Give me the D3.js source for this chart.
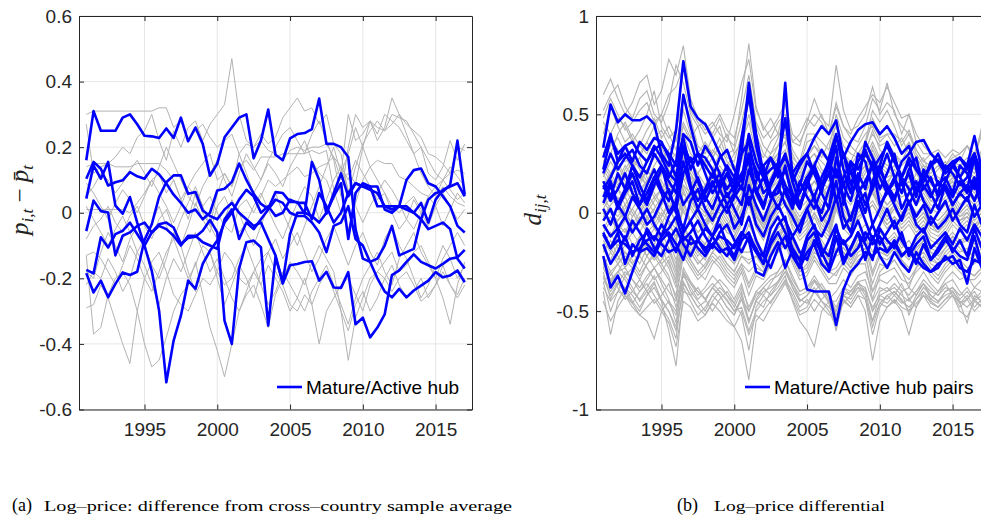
<!DOCTYPE html>
<html>
<head>
<meta charset="utf-8">
<script src="https://cdn.jsdelivr.net/npm/d3@7"></script>
<style>
  body { margin: 0; background: #fff; }
  svg { display: block; }
</style>
</head>
<body>
<svg id="chart" width="981" height="520"></svg>
<script>
// half-yearly observations, 1991 to 2017
var years = d3.range(53).map(function(i) { return 1991 + i / 2; });

var xTicks = [1995, 2000, 2005, 2010, 2015];
var leftYTicks = [-0.6, -0.4, -0.2, 0, 0.2, 0.4, 0.6];
var rightYTicks = [-1, -0.5, 0, 0.5, 1];

// panel (a): p_it - mean p_t, hubs in blue
var leftHub = [
  [0.16,0.31,0.25,0.25,0.25,0.29,0.30,0.27,0.235,0.233,0.228,0.257,0.228,0.29,0.218,0.26,0.21,0.113,0.15,0.23,0.26,0.29,0.30,0.166,0.22,0.315,0.177,0.16,0.227,0.24,0.243,0.255,0.348,0.21,0.21,0.20,0.17,-0.05,-0.14,-0.15,-0.20,-0.24,-0.258,-0.232,-0.258,-0.237,-0.222,-0.207,-0.181,-0.197,-0.191,-0.176,-0.212],
  [0.104,0.155,0.134,0.083,0.093,0.099,0.124,0.111,0.104,0.134,0.117,0.089,0.055,0.03,0.0,0.01,-0.02,0.0,0.068,0.073,0.094,0.15,0.10,0.058,0.027,0.012,0.063,0.06,0.033,0.033,-0.003,0.155,0.10,-0.003,0.06,0.12,0.05,0.09,0.08,0.08,0.02,0.02,0.02,0.02,0.10,0.13,0.135,0.09,0.08,0.05,0.02,-0.04,-0.06],
  [0.043,0.144,0.104,0.155,0.022,-0.003,0.048,-0.03,-0.1,-0.177,-0.298,-0.517,-0.39,-0.314,-0.207,-0.232,-0.156,-0.116,-0.085,-0.03,0.0,0.04,0.07,0.05,0.0,0.02,-0.01,0.0,0.04,0.03,0.03,-0.02,0.06,0.02,-0.03,0.0,0.06,0.09,0.08,0.07,0.06,0.02,0.01,0.02,0.02,0.0,-0.02,0.04,0.06,0.065,0.085,0.22,0.055],
  [-0.056,0.037,0.005,0.001,-0.13,-0.07,-0.06,-0.04,-0.03,-0.06,-0.04,-0.05,-0.07,-0.10,-0.07,-0.07,-0.09,-0.10,-0.11,-0.02,0.01,-0.08,-0.03,-0.05,-0.02,0.01,0.04,0.03,0.0,-0.01,-0.01,-0.03,-0.06,-0.12,-0.04,-0.03,0.02,-0.08,-0.1,-0.15,-0.14,-0.1,-0.04,-0.13,-0.12,-0.11,-0.02,-0.05,-0.04,-0.03,-0.05,-0.14,-0.17],
  [-0.174,-0.185,-0.075,-0.106,-0.065,-0.055,-0.03,-0.065,-0.1,-0.06,-0.035,-0.03,-0.045,-0.095,-0.077,-0.073,-0.055,-0.022,-0.06,-0.33,-0.40,-0.17,-0.09,-0.085,-0.105,-0.344,-0.135,-0.21,-0.065,0.0,0.0,-0.01,-0.03,0.0,0.05,0.09,-0.08,0.06,0.09,0.08,0.08,0.01,0.0,0.02,0.01,0.0,0.03,-0.03,0.04,0.07,0.08,0.09,0.05],
  [-0.184,-0.243,-0.207,-0.258,-0.217,-0.182,-0.19,-0.18,-0.083,-0.035,0.048,0.093,0.114,0.114,0.058,0.063,0.007,-0.01,-0.02,0.01,0.03,0.0,-0.02,-0.04,-0.03,-0.08,-0.13,-0.216,-0.16,-0.156,-0.15,-0.148,-0.207,-0.18,-0.228,-0.229,-0.181,-0.34,-0.32,-0.38,-0.35,-0.31,-0.19,-0.176,-0.15,-0.127,-0.15,-0.16,-0.17,-0.156,-0.14,-0.136,-0.113]
];

var leftOther = [
  [0.30,0.31,0.31,0.31,0.31,0.31,0.31,0.31,0.31,0.31,0.32,0.32,0.26,0.28,0.22,0.25,0.27,0.23,0.20,0.22,0.24,0.18,0.21,0.20,0.22,0.19,0.18,0.16,0.19,0.20,0.19,0.20,0.20,0.21,0.17,0.10,0.12,0.09,0.20,0.28,0.26,0.25,0.27,0.30,0.27,0.25,0.23,0.18,0.17,0.15,0.12,0.20,0.19],
  [0.14,0.15,0.15,0.15,0.14,0.14,0.14,0.15,0.15,0.15,0.15,0.13,0.10,0.04,0.08,0.12,0.15,0.18,0.10,0.12,0.08,0.14,0.16,0.13,0.17,0.17,0.17,0.18,0.18,0.18,0.18,0.19,0.18,0.19,0.07,0.0,-0.05,0.03,0.10,0.14,0.16,0.15,0.15,0.11,0.10,0.08,0.06,0.05,0.08,0.10,0.12,0.13,0.12],
  [0.27,0.12,0.14,0.15,0.17,0.20,0.18,0.23,0.25,0.30,0.22,0.16,0.25,0.20,0.26,0.28,0.22,0.27,0.30,0.33,0.47,0.30,0.22,0.20,0.24,0.21,0.23,0.29,0.32,0.35,0.31,0.32,0.27,0.30,0.21,0.18,0.06,0.14,0.21,0.25,0.28,0.25,0.30,0.29,0.28,0.24,0.20,0.12,0.10,0.14,0.22,0.16,0.21],
  [0.01,0.01,0.01,0.01,0.01,0.01,0.0,0.03,0.06,0.10,0.12,0.06,0.10,0.04,-0.02,0.06,0.02,0.05,0.0,-0.04,-0.06,0.02,0.04,0.0,0.05,0.10,0.08,0.10,0.12,0.14,0.11,0.12,0.14,0.15,0.17,0.14,0.10,0.16,0.12,0.08,0.04,0.06,0.02,0.0,0.03,0.05,0.01,-0.02,0.04,0.08,0.05,0.03,0.02],
  [-0.29,-0.28,-0.22,-0.26,-0.33,-0.40,-0.46,-0.30,-0.20,-0.15,-0.12,-0.18,-0.25,-0.28,-0.30,-0.25,-0.20,-0.22,-0.18,-0.12,-0.15,-0.20,-0.22,-0.18,-0.14,-0.12,-0.18,-0.22,-0.28,-0.30,-0.25,-0.28,-0.40,-0.30,-0.26,-0.22,-0.20,-0.25,-0.30,-0.22,-0.18,-0.20,-0.24,-0.20,-0.18,-0.22,-0.27,-0.25,-0.22,-0.18,-0.22,-0.25,-0.20],
  [-0.13,-0.37,-0.35,-0.25,-0.20,-0.18,-0.22,-0.30,-0.40,-0.47,-0.45,-0.38,-0.30,-0.25,-0.22,-0.15,-0.25,-0.35,-0.42,-0.50,-0.40,-0.30,-0.25,-0.22,-0.28,-0.35,-0.25,-0.20,-0.15,-0.18,-0.22,-0.15,-0.10,-0.14,-0.18,-0.30,-0.45,-0.32,-0.26,-0.20,-0.18,-0.15,-0.12,-0.18,-0.16,-0.12,-0.10,-0.15,-0.20,-0.26,-0.34,-0.22,-0.15],
  [-0.13,-0.12,-0.14,-0.18,-0.22,-0.16,-0.10,-0.14,-0.20,-0.24,-0.18,-0.12,-0.08,-0.14,-0.20,-0.16,-0.10,-0.12,-0.18,-0.22,-0.20,-0.14,-0.10,-0.16,-0.22,-0.28,-0.24,-0.18,-0.22,-0.26,-0.30,-0.24,-0.20,-0.16,-0.22,-0.28,-0.34,-0.26,-0.20,-0.16,-0.12,-0.18,-0.22,-0.14,-0.10,-0.06,-0.12,-0.16,-0.20,-0.14,-0.10,-0.06,-0.10],
  [-0.08,-0.04,-0.02,0.02,-0.03,-0.06,-0.01,0.02,-0.04,-0.08,-0.02,0.01,-0.05,-0.10,-0.04,0.03,-0.02,-0.06,0.02,0.05,0.0,-0.06,-0.03,0.02,0.06,0.01,-0.04,-0.08,-0.02,0.03,0.08,0.05,-0.02,0.04,0.10,0.14,0.07,0.02,-0.03,0.02,0.06,0.10,0.07,0.03,-0.02,-0.05,0.0,0.05,0.02,-0.04,0.01,0.06,0.03],
  [0.05,0.08,0.12,0.10,0.06,0.09,0.13,0.16,0.12,0.08,0.14,0.20,0.15,0.10,0.05,0.02,0.08,0.12,0.16,0.10,0.05,0.12,0.18,0.14,0.10,0.15,0.12,0.08,0.14,0.18,0.22,0.16,0.12,0.10,0.04,0.12,0.30,0.22,0.24,0.28,0.22,0.26,0.35,0.30,0.24,0.18,0.20,0.16,0.12,0.10,0.14,0.11,0.08],
  [-0.18,-0.20,-0.12,-0.06,-0.10,-0.15,-0.08,-0.04,-0.10,-0.16,-0.20,-0.14,-0.06,-0.10,-0.18,-0.24,-0.16,-0.12,-0.20,-0.28,-0.22,-0.16,-0.20,-0.26,-0.18,-0.12,-0.08,-0.14,-0.10,-0.06,-0.12,-0.18,-0.14,-0.08,-0.04,-0.10,-0.16,-0.10,-0.06,-0.12,-0.16,-0.08,-0.04,-0.10,-0.14,-0.20,-0.26,-0.22,-0.16,-0.10,-0.14,-0.20,-0.16],
  [0.09,0.06,0.02,-0.02,0.03,0.07,0.04,0.0,0.05,0.10,0.06,0.02,-0.03,0.02,0.08,0.05,0.0,-0.04,0.06,0.12,0.08,0.18,0.12,0.06,0.10,0.16,0.20,0.24,0.26,0.22,0.18,0.24,0.28,0.22,0.16,0.05,0.20,0.30,0.26,0.28,0.24,0.30,0.28,0.26,0.22,0.18,0.12,0.08,0.05,0.10,0.07,0.04,0.06],
  [-0.22,-0.18,-0.20,-0.14,-0.18,-0.24,-0.20,-0.12,-0.16,-0.22,-0.28,-0.20,-0.14,-0.18,-0.12,-0.06,-0.12,-0.18,-0.14,-0.20,-0.26,-0.30,-0.24,-0.18,-0.22,-0.16,-0.20,-0.24,-0.30,-0.26,-0.20,-0.28,-0.22,-0.18,-0.24,-0.30,-0.36,-0.28,-0.24,-0.30,-0.26,-0.20,-0.16,-0.22,-0.26,-0.24,-0.20,-0.26,-0.22,-0.16,-0.22,-0.26,-0.22],
  [0.02,-0.02,-0.06,-0.10,-0.05,-0.01,-0.06,-0.12,-0.08,-0.03,0.02,-0.04,-0.08,-0.02,0.03,0.08,0.02,-0.04,-0.08,-0.02,0.04,0.0,-0.06,-0.10,-0.04,0.02,0.06,0.0,-0.05,-0.10,-0.04,0.02,0.08,0.14,0.20,0.12,0.18,0.26,0.20,0.14,0.10,0.06,0.0,-0.05,-0.02,0.04,0.0,-0.04,0.02,0.06,0.02,-0.02,0.01]
];

// panel (b): pairwise differentials d_ij,t, in hundredths
var rightHubPairs = [
  [33,55,46,50,47,47,49,45,30,24, 42,77,54,48,45,38,30,22,14,38, 60,34,18,22,25,48,20,26,30,38, 44,40,47,28,36,42,45,46,40,44, 38,30,34,22,18,24,27,22,26,28, 24,39,22],
  [28,40,26,34,36,30,26,32,35,30, 24,60,44,30,28,22,14,20,10,30, 66,40,20,8,10,24,6,14,26,20, 10,28,40,22,10,30,26,12,24,36, 28,18,26,10,16,26,14,18,10,24, 20,12,26],
  [22,38,30,34,26,36,32,38,36,28, 18,40,36,24,34,28,20,12,18,30, 36,18,24,28,18,66,16,4,14,24, 32,26,18,30,20,14,36,28,20,30, 18,10,22,28,12,18,8,16,24,18, 12,28,6],
  [12,18,26,30,24,18,26,34,28,20, 16,34,26,30,20,10,16,24,18,12, 30,22,10,14,22,28,20,10,18,24, 14,20,34,4,26,22,30,24,12,20, 30,14,20,8,22,16,10,24,20,14, 18,30,12],
  [16,8,20,12,24,14,6,18,24,10, 2,20,28,16,6,14,20,8,14,20, 26,10,18,8,14,22,10,2,14,8, 18,26,6,14,22,10,0,16,24,12, 6,18,12,4,14,8,16,12,4,10, 14,6,16],
  [5,14,2,10,16,4,10,18,10,0, 6,26,12,2,10,16,6,0,8,14, 4,16,24,10,2,12,4,10,18,6, 0,12,22,8,-4,10,16,24,4,10, 18,2,10,16,6,0,8,14,4,10, 6,16,2],
  [2,-6,4,-2,8,2,-6,-2,6,12, 0,-8,6,12,2,-4,4,10,2,-6, 14,4,-4,6,14,4,-2,-10,2,8, -4,2,16,-2,-10,4,10,-6,2,12, 4,-4,6,-2,4,-6,0,6,-4,2, 8,-2,4],
  [-4,2,-8,-2,-10,-4,2,-6,-12,-2, 4,-10,-4,2,-6,-12,-2,4,-8,-2, 8,-6,-12,-2,4,-4,-12,-6,2,-8, -12,-4,8,-8,-2,6,-4,-14,-6,2, -8,-2,6,-6,-10,-2,-8,-4,2,-6, -10,4,-6],
  [-11,-18,-10,-26,-16,-20,-8,-14,-6,-12, -20,-10,-4,-14,-20,-12,-6,-16,-22,-12, -2,-14,-22,-8,-2,-10,-18,-24,-12,-6, -18,-22,-8,-16,-12,-4,-14,-6,-16,-10, -4,-14,-20,-12,-8,-18,-14,-10,-16,-8, -14,-6,-12],
  [-6,-12,-8,-14,-4,-10,-16,-20,-12,-8, -2,-14,-10,-4,-12,-18,-10,-6,-14,-20, -12,-18,-26,-14,-6,-2,-20,-28,-14,-10, -22,-14,-6,-24,-18,-10,-16,-24,-8,-14, -18,-10,-22,-16,-12,-24,-18,-12,-20,-14, -22,-8,-18],
  [-22,-38,-32,-41,-30,-20,-18,-22,-14,-10, -16,-24,-12,-18,-22,-16,-20,-18,-24,-14, -10,-20,-22,-28,-18,-12,-22,-28,-20,-16, -26,-30,-20,-14,-22,-18,-10,-16,-12,-20, -14,-22,-18,-26,-16,-24,-20,-14,-18,-22, -24,-12,-26],
  [-10,-18,-14,-16,-20,-18,-14,-12,-16,-20, -18,-12,-16,-14,-18,-16,-12,-14,-18,-10, -14,-30,-32,-22,-15,-28,-19,-24,-39,-40, -40,-40,-57,-39,-30,-26,-20,-22,-18,-20, -16,-22,-18,-24,-28,-30,-26,-24,-22,-28, -30,-24,-26],
  [-16,-26,-20,-12,-22,-14,-10,-18,-22,-14, -8,-16,-22,-14,-8,-12,-18,-22,-16,-10, -14,-20,-26,-16,-10,-18,-12,-20,-24,-14, -20,-28,-12,-26,-18,-10,-24,-12,-22,-28, -20,-26,-30,-20,-26,-30,-28,-22,-26,-24, -36,-18,-28],
  [8,16,4,12,20,10,4,14,22,16, 10,34,14,6,12,20,12,4,10,18, 30,10,2,16,24,14,8,2,16,22, 10,2,28,14,6,20,12,26,18,10, 16,26,30,36,37,30,26,20,24,28, 22,30,20],
  [14,6,12,20,10,4,14,22,12,6, 16,4,10,18,8,2,12,20,10,4, 22,12,4,14,22,10,2,16,8,2, 12,20,6,18,26,14,4,12,22,14, 8,16,4,12,20,10,2,14,8,16, 10,18,8],
  [20,30,22,28,32,24,20,30,24,18, 26,38,22,30,24,18,28,32,22,16, 40,26,18,28,22,30,16,24,30,20, 14,24,38,30,14,26,32,22,28,34, 26,18,28,22,16,24,30,22,26,18, 24,30,16]
];

var rightOtherPairs = [
  [60,68,58,50,56,66,70,55,62,78, 70,85,58,48,42,46,40,36,50,66, 78,52,44,38,46,50,36,40,48,44, 50,40,56,44,38,36,44,58,52,66, 50,44,40,32,26,30,28,24,28,30, 34,28,40],
  [52,60,65,54,48,58,62,50,46,56, 75,66,50,44,46,40,48,38,34,58, 86,54,42,48,40,56,36,34,46,58, 48,44,75,52,42,44,50,64,50,56, 52,40,50,36,30,30,26,24,30,26, 34,26,44],
  [46,40,48,44,36,42,50,62,44,38, 42,58,48,34,30,38,44,30,32,46, 62,44,34,30,38,48,32,26,40,40, 36,32,50,38,34,30,36,52,46,52, 44,34,40,30,24,22,28,20,22,24, 26,22,30],
  [40,54,44,36,40,34,42,48,38,44, 36,52,40,30,36,30,38,28,26,40, 56,40,30,26,34,44,28,24,36,38, 30,28,46,34,30,28,34,48,40,44, 38,30,36,28,22,20,24,18,22,20, 24,20,28],
  [35,30,40,46,38,30,36,44,50,40, 32,46,38,44,32,28,34,40,30,36, 50,34,28,36,40,38,30,22,30,34, 28,36,44,30,26,34,40,44,36,40, 34,38,30,24,28,18,22,26,18,22, 20,24,26],
  [48,58,50,42,46,52,56,46,50,60, 64,74,52,46,40,44,50,42,38,52, 70,46,38,42,48,56,40,36,44,50, 46,40,54,44,40,48,54,60,56,64, 56,48,50,40,34,30,32,28,32,30, 34,30,42],
  [30,38,32,26,28,34,30,38,42,34, 28,44,36,30,26,32,28,24,30,36, 46,30,24,30,34,40,26,20,28,34, 30,26,40,30,24,30,36,46,38,40, 40,36,42,32,26,24,26,22,26,24, 28,22,32],
  [26,34,38,30,24,28,36,30,26,32, 38,40,30,26,22,28,34,26,22,30, 40,28,22,26,30,36,24,18,26,30, 26,22,36,28,22,26,32,40,34,36, 30,26,34,24,20,22,18,16,20,18, 22,18,24],
  [22,16,28,30,20,14,22,28,34,24, 18,36,26,20,14,22,30,24,18,26, 40,24,18,24,30,36,22,16,26,30, 22,18,34,24,20,26,30,42,32,28, 30,24,28,20,24,18,16,20,24,18, 22,16,20],
  [18,26,20,14,22,28,18,12,20,26, 30,22,14,20,26,16,10,18,24,14, 34,20,12,18,26,20,14,10,18,24, 16,22,30,12,18,24,16,28,20,14, 22,16,12,20,14,10,16,12,18,14, 10,16,12],
  [14,20,26,18,12,16,22,16,10,14, 22,34,16,10,14,20,14,6,12,18, 30,14,8,12,18,26,12,6,14,20, 14,8,26,16,10,14,20,30,22,18, 20,14,18,10,14,8,6,10,14,8, 12,6,10],
  [24,18,12,20,26,18,14,22,16,10, 16,28,20,14,10,16,22,16,12,18, 28,16,10,16,22,30,18,12,18,22, 16,12,20,26,16,20,24,32,24,20, 24,18,22,14,18,12,10,14,18,12, 16,12,18],
  [10,16,12,8,14,20,14,8,12,18, 14,26,14,8,12,18,12,6,10,16, 26,12,6,12,16,22,10,4,10,16, 10,6,22,10,6,12,16,24,16,12, 14,10,14,6,10,4,2,6,10,4, 8,4,8],
  [20,12,16,24,18,12,8,16,22,14, 10,22,18,12,8,14,20,14,10,18, 32,18,12,18,24,22,16,10,16,20, 12,8,24,14,10,18,24,20,12,16, 20,14,18,12,16,10,8,12,16,10, 14,10,14],
  [12,18,24,16,10,14,8,14,20,26, 18,30,20,12,8,14,20,14,8,12, 24,14,10,16,20,28,14,8,12,16, 10,14,28,18,12,16,22,34,26,22, 18,12,16,10,12,6,8,12,16,10, 12,8,14],
  [16,10,6,12,18,12,16,22,14,8, 12,24,16,10,6,12,18,12,6,14, 28,12,6,14,20,24,12,6,10,16, 12,6,18,12,16,10,14,26,18,14, 16,10,12,8,12,6,4,8,12,8, 10,6,10],
  [26,20,14,22,28,22,16,24,30,22, 16,30,22,16,12,18,24,18,14,20, 36,20,14,22,28,32,20,14,20,26, 20,16,30,22,18,24,28,36,28,24, 26,20,24,16,20,14,12,16,20,14, 18,14,20],
  [8,14,18,12,6,10,16,10,4,10, 16,20,12,6,2,8,14,8,4,10, 22,8,2,8,14,20,8,2,6,12, 6,2,18,8,4,10,14,22,14,10, 12,8,10,4,8,2,0,4,8,2, 6,2,6],
  [4,10,2,-4,2,8,2,-4,4,10, 2,18,8,0,-6,2,8,2,-4,6, 20,4,-4,4,10,16,2,-4,2,8, 0,-6,14,2,-4,6,10,18,10,4, 8,2,6,-2,4,-2,-4,0,6,0, 4,-2,2],
  [0,-6,4,8,0,-6,2,8,2,-4, -8,10,4,-2,-8,0,6,0,-6,2, 14,0,-8,2,8,12,0,-6,0,6, -2,-8,8,0,-6,2,6,14,6,0, 4,-2,2,-4,0,-6,-8,-4,2,-4, 0,-6,-2],
  [-4,2,-6,-10,-2,4,-2,-8,-2,4, -6,12,2,-4,-8,-2,4,-2,-8,0, 10,-2,-8,0,6,10,-2,-8,-4,4, -4,-10,6,-2,-8,0,4,10,4,-2, 2,-4,0,-6,-2,-8,-10,-6,0,-4, -2,-8,-4],
  [6,0,-4,2,8,2,-4,2,8,2, -4,6,10,2,-2,4,10,4,-2,6, 16,2,-6,4,10,8,2,-6,2,10, 2,-4,10,4,-2,4,8,12,4,2, 6,0,4,-2,2,-4,-6,-2,4,-2, 2,-4,0],
  [-8,-2,-10,-4,2,-4,-10,-6,0,-6, -12,4,-4,-10,-6,0,-4,-10,-12,-4, 6,-6,-12,-4,2,6,-6,-12,-8,0, -8,-12,4,-6,-10,-2,2,6,0,-6, -2,-8,-4,-10,-6,-12,-14,-10,-4,-8, -4,-10,-6],
  [2,8,12,4,-2,4,10,4,-2,6, 10,14,6,0,-4,2,0,-6,-2,6, 12,-2,-6,2,8,6,-2,-8,-4,4, -2,-8,8,-4,-8,2,4,10,2,-4, 2,-4,0,-6,-2,-6,-10,-4,0,-4, -2,-6,-4],
  [-10,-4,-8,-14,-8,-2,-8,-14,-10,-4, -14,2,-6,-12,-16,-8,-2,-8,-14,-6, 4,-8,-14,-6,0,4,-8,-14,-10,-2, -10,-14,2,-8,-12,-4,0,4,-2,-8, -4,-10,-6,-12,-8,-14,-16,-12,-6,-10, -6,-12,-8],
  [-2,4,8,0,-6,0,6,0,-6,2, 8,0,-4,4,0,-6,2,-4,-10,-2, 16,2,-4,2,6,12,-2,-6,-2,6, -2,-6,10,-2,-6,4,0,12,4,-2, 4,-2,2,-4,0,-6,-8,-2,2,-2, 0,-4,0],
  [-6,-12,-4,0,-6,-10,-2,2,-4,-10, -16,6,-4,-10,-6,0,-4,-10,-12,-4, 8,-4,-10,-4,2,6,-4,-10,-6,0, -6,-10,2,-6,-10,-2,0,4,-2,-6, -2,-6,-2,-8,-4,-10,-12,-8,-2,-6, -2,-8,-4],
  [8,2,-2,4,10,6,0,6,12,6, 0,14,10,4,0,6,12,6,0,8, 18,4,-2,6,12,14,4,-2,4,10, 4,-2,12,6,0,6,10,16,8,4, 8,2,6,0,4,-2,-4,0,6,0, 4,-2,2],
  [-14,-20,-12,-8,-16,-22,-14,-8,-14,-20, -28,-6,-14,-20,-16,-10,-14,-20,-24,-14, -10,-16,-22,-14,-8,-4,-14,-22,-18,-10, -16,-22,-8,-16,-20,-12,-10,-6,-12,-16, -12,-18,-14,-20,-14,-20,-24,-18,-12,-16, -12,-18,-14],
  [-18,-26,-20,-14,-20,-26,-18,-12,-18,-26, -34,-14,-20,-26,-22,-16,-20,-26,-30,-22, -26,-22,-26,-18,-12,-8,-18,-26,-22,-14, -20,-26,-20,-20,-26,-18,-16,-22,-18,-22, -18,-24,-28,-22,-16,-22,-26,-20,-16,-20, -18,-24,-20],
  [-22,-30,-26,-20,-24,-30,-22,-16,-22,-28, -38,-18,-24,-30,-26,-20,-24,-30,-34,-26, -36,-28,-30,-22,-16,-10,-22,-30,-28,-20, -24,-30,-32,-24,-28,-22,-20,-40,-30,-26, -24,-30,-38,-28,-22,-28,-32,-26,-22,-26, -30,-32,-28],
  [-26,-34,-30,-24,-28,-34,-26,-20,-26,-32, -44,-22,-28,-34,-30,-24,-28,-34,-38,-30, -42,-32,-34,-26,-20,-16,-26,-34,-32,-24, -30,-36,-36,-28,-32,-26,-26,-44,-32,-30, -28,-34,-36,-30,-26,-32,-36,-30,-26,-30, -34,-34,-30],
  [-16,-10,-18,-24,-18,-12,-18,-24,-20,-14, -24,-8,-14,-20,-24,-16,-12,-18,-22,-16, -6,-14,-20,-12,-6,-2,-12,-20,-16,-8, -14,-20,-10,-14,-18,-10,-6,-12,-10,-14, -10,-16,-20,-14,-10,-16,-18,-14,-10,-14, -12,-16,-12],
  [-20,-14,-22,-28,-22,-16,-22,-28,-24,-18, -30,-12,-18,-24,-28,-20,-16,-22,-26,-20, -20,-18,-24,-16,-10,-6,-16,-24,-20,-12, -18,-24,-18,-18,-22,-14,-12,-24,-16,-18, -14,-20,-24,-18,-14,-20,-22,-18,-14,-18, -22,-20,-16],
  [-24,-32,-26,-22,-26,-32,-26,-22,-28,-34, -42,-20,-26,-32,-28,-22,-26,-32,-36,-28, -38,-30,-32,-26,-20,-14,-24,-32,-30,-22, -28,-34,-30,-26,-30,-24,-22,-36,-26,-28, -24,-30,-34,-28,-24,-30,-34,-28,-24,-28, -30,-32,-28],
  [-12,-18,-24,-16,-10,-16,-22,-16,-10,-18, -26,-10,-16,-22,-18,-12,-16,-22,-26,-18, -14,-20,-26,-18,-12,-6,-16,-24,-20,-12, -18,-24,-14,-18,-22,-16,-12,-20,-14,-18, -14,-20,-22,-16,-12,-18,-20,-16,-12,-16, -14,-18,-14],
  [-28,-20,-26,-32,-28,-22,-28,-34,-30,-24, -36,-18,-24,-30,-34,-26,-22,-28,-32,-26, -30,-26,-30,-22,-16,-12,-22,-30,-26,-18, -24,-30,-28,-22,-28,-20,-18,-32,-22,-24, -20,-26,-30,-24,-20,-26,-28,-24,-20,-24, -28,-26,-22],
  [-18,-24,-16,-20,-26,-20,-14,-20,-26,-22, -32,-14,-20,-26,-22,-16,-20,-26,-30,-22, -24,-22,-28,-20,-14,-8,-18,-26,-22,-16, -20,-26,-22,-20,-24,-18,-14,-30,-20,-22, -18,-24,-30,-22,-18,-24,-26,-22,-18,-22, -24,-22,-18],
  [-35,-50,-40,-32,-38,-45,-40,-35,-45,-60, -78,-40,-42,-48,-45,-38,-42,-48,-52,-42, -55,-45,-48,-40,-35,-30,-38,-45,-42,-35, -40,-45,-45,-38,-40,-35,-34,-45,-38,-40, -36,-40,-38,-42,-36,-44,-46,-40,-38,-42, -38,-44,-40],
  [-40,-62,-45,-38,-42,-48,-42,-36,-44,-50, -60,-38,-45,-52,-48,-42,-46,-52,-58,-65, -85,-55,-50,-45,-40,-35,-42,-50,-48,-40, -45,-48,-50,-42,-46,-40,-38,-50,-44,-46, -42,-46,-44,-48,-40,-46,-48,-44,-40,-46, -42,-48,-44],
  [-38,-45,-40,-42,-48,-52,-55,-64,-50,-45, -50,-35,-42,-48,-52,-45,-40,-45,-50,-48, -60,-50,-45,-42,-38,-32,-45,-55,-60,-68, -50,-45,-55,-42,-40,-35,-40,-48,-42,-44, -40,-45,-48,-44,-38,-42,-45,-40,-38,-44, -40,-45,-42],
  [-32,-40,-35,-38,-45,-50,-42,-38,-45,-50, -58,-30,-40,-45,-50,-42,-38,-42,-48,-40, -55,-45,-40,-38,-35,-28,-38,-45,-42,-38, -45,-50,-58,-45,-48,-42,-50,-75,-55,-48, -45,-50,-62,-48,-42,-45,-48,-44,-42,-50, -53,-45,-48],
  [-28,-36,-30,-34,-40,-44,-38,-32,-40,-46, -52,-28,-35,-40,-44,-38,-34,-38,-44,-36, -50,-40,-36,-32,-30,-24,-34,-40,-38,-34, -40,-46,-60,-42,-44,-38,-44,-62,-48,-42, -40,-44,-50,-42,-36,-40,-42,-38,-40,-46, -56,-42,-45],
  [-45,-55,-48,-42,-46,-52,-48,-44,-50,-56, -68,-45,-48,-55,-52,-46,-50,-55,-58,-50, -62,-52,-55,-48,-42,-36,-44,-52,-50,-44, -48,-52,-52,-44,-48,-42,-44,-55,-46,-48, -44,-48,-50,-46,-42,-48,-50,-46,-42,-46, -44,-50,-46],
  [-33,-42,-36,-30,-34,-40,-34,-28,-36,-44, -56,-30,-36,-42,-38,-32,-36,-42,-46,-38, -48,-40,-42,-36,-30,-24,-32,-40,-38,-32, -38,-44,-40,-34,-38,-32,-30,-40,-34,-36, -32,-38,-42,-36,-30,-36,-40,-34,-30,-34, -32,-38,-34],
  [-25,-35,-30,-28,-34,-38,-32,-28,-34,-40, -45,-30,-36,-40,-44,-38,-42,-48,-52,-44, -50,-42,-38,-34,-32,-28,-36,-42,-40,-34, -38,-42,-48,-40,-42,-38,-40,-55,-42,-40, -38,-42,-45,-40,-36,-42,-45,-42,-40,-45, -48,-44,-48],
  [-30,-44,-36,-40,-46,-40,-36,-42,-48,-54, -64,-36,-42,-38,-44,-50,-44,-40,-46,-52, -70,-48,-42,-46,-40,-34,-40,-48,-44,-50, -44,-40,-52,-46,-42,-36,-42,-58,-46,-42, -46,-40,-52,-44,-40,-44,-40,-36,-42,-48, -44,-40,-46],
  [-36,-30,-38,-44,-40,-34,-40,-46,-42,-36, -48,-32,-38,-44,-40,-36,-40,-44,-50,-44, -56,-44,-38,-42,-36,-30,-36,-44,-46,-40, -36,-42,-50,-38,-42,-36,-38,-50,-40,-38, -42,-36,-44,-40,-34,-38,-42,-36,-34,-40, -44,-38,-40]
];

var svg = d3.select("#chart");
var axisColor = "#262626";
var tickFont = "'Liberation Sans', Arial, Helvetica, sans-serif";
var plotTop = 16, plotBottom = 409.5, plotWidth = 393;

function drawPanel(p) {
  var x = d3.scaleLinear().domain([1990.5, 2017.5]).range([p.left, p.left + plotWidth]);
  var y = d3.scaleLinear().domain(p.yDomain).range([plotBottom, plotTop]);
  var g = svg.append("g");

  g.append("clipPath").attr("id", p.id + "-clip")
    .append("rect")
    .attr("x", p.left).attr("y", plotTop)
    .attr("width", plotWidth).attr("height", plotBottom - plotTop);

  // grid
  g.append("g").selectAll("line").data(xTicks).join("line")
    .attr("x1", function(d) { return x(d); }).attr("x2", function(d) { return x(d); })
    .attr("y1", plotTop).attr("y2", plotBottom)
    .attr("stroke", "#e6e6e6").attr("stroke-width", 1);
  g.append("g").selectAll("line").data(p.yTicks).join("line")
    .attr("x1", p.left).attr("x2", p.left + plotWidth)
    .attr("y1", function(d) { return y(d); }).attr("y2", function(d) { return y(d); })
    .attr("stroke", "#e6e6e6").attr("stroke-width", 1);

  var line = d3.line()
    .x(function(d, i) { return x(years[i]); })
    .y(function(d) { return y(d * p.unit); });

  var lines = g.append("g").attr("clip-path", "url(#" + p.id + "-clip)");
  lines.selectAll("path.other").data(p.other).join("path")
    .attr("class", "other")
    .attr("d", line)
    .attr("fill", "none")
    .attr("stroke", "#b3b3b3")
    .attr("stroke-width", p.otherWidth);
  lines.selectAll("path.hub").data(p.hub).join("path")
    .attr("class", "hub")
    .attr("d", line)
    .attr("fill", "none")
    .attr("stroke", "#0000ff")
    .attr("stroke-width", 2.6)
    .attr("stroke-linejoin", "round");

  // axes, ticks pointing inward
  var bottom = g.append("g").attr("transform", "translate(0," + plotBottom + ")")
    .call(d3.axisBottom(x).tickValues(xTicks).tickFormat(d3.format("d"))
      .tickSizeInner(-5).tickSizeOuter(0).tickPadding(13));
  var left = g.append("g").attr("transform", "translate(" + p.left + ",0)")
    .call(d3.axisLeft(y).tickValues(p.yTicks).tickFormat(p.fmt)
      .tickSizeInner(-5).tickSizeOuter(0).tickPadding(7));
  var top = g.append("g").attr("transform", "translate(0," + plotTop + ")")
    .call(d3.axisTop(x).tickValues(xTicks).tickFormat("")
      .tickSizeInner(-5).tickSizeOuter(0));
  var right = g.append("g").attr("transform", "translate(" + (p.left + plotWidth) + ",0)")
    .call(d3.axisRight(y).tickValues(p.yTicks).tickFormat("")
      .tickSizeInner(-5).tickSizeOuter(0));

  [bottom, left, top, right].forEach(function(a) {
    a.select(".domain").attr("stroke", axisColor);
    a.selectAll(".tick line").attr("stroke", axisColor);
    a.selectAll(".tick text").attr("fill", axisColor)
      .attr("font-family", tickFont).attr("font-size", 19);
  });

  // legend
  g.append("line")
    .attr("x1", p.legendX).attr("x2", p.legendX + 25)
    .attr("y1", 387).attr("y2", 387)
    .attr("stroke", "#0000ff").attr("stroke-width", 2.6);
  g.append("text")
    .attr("x", p.legendX + 29).attr("y", 394)
    .attr("font-family", tickFont).attr("font-size", 19)
    .attr("fill", "#000")
    .text(p.legend);
}

var fmtLeft = function(d) { return d === 0 ? "0" : d3.format(".1f")(d).replace("\u2212", "-"); };
var fmtRight = function(d) { return String(d); };

drawPanel({
  id: "a", left: 79, yDomain: [-0.6, 0.6], yTicks: leftYTicks, fmt: fmtLeft,
  unit: 1, hub: leftHub, other: leftOther, otherWidth: 1,
  legendX: 277, legend: "Mature/Active hub"
});
drawPanel({
  id: "b", left: 596, yDomain: [-1, 1], yTicks: rightYTicks, fmt: fmtRight,
  unit: 0.01, hub: rightHubPairs, other: rightOtherPairs, otherWidth: 1.1,
  legendX: 745, legend: "Mature/Active hub pairs"
});

// y labels
var serif = "'Liberation Serif', 'Times New Roman', serif";
var yl = svg.append("text")
  .attr("transform", "translate(28,200) rotate(-90)")
  .attr("text-anchor", "middle")
  .attr("font-family", serif).attr("font-size", 25).attr("fill", "#222");
yl.append("tspan").attr("font-style", "italic").text("p");
yl.append("tspan").attr("font-style", "italic").attr("font-size", 17).attr("dy", 5).text("i,t");
yl.append("tspan").attr("dy", -5).text(" \u2212 ");
yl.append("tspan").attr("font-style", "italic").text("p\u0304");
yl.append("tspan").attr("font-style", "italic").attr("font-size", 17).attr("dy", 5).text("t");

var yr = svg.append("text")
  .attr("transform", "translate(541,210) rotate(-90)")
  .attr("text-anchor", "middle")
  .attr("font-family", serif).attr("font-size", 25).attr("fill", "#222");
yr.append("tspan").attr("font-style", "italic").text("d");
yr.append("tspan").attr("font-style", "italic").attr("font-size", 17).attr("dy", 5).text("ij,t");

// captions
function caption(xa, xb, width, letter, text) {
  svg.append("text").attr("x", xa).attr("y", 511)
    .attr("font-family", serif).attr("font-size", 18).attr("fill", "#000")
    .text(letter);
  svg.append("text").attr("x", xb).attr("y", 511)
    .attr("font-family", serif).attr("font-size", 14).attr("fill", "#000")
    .attr("textLength", width).attr("lengthAdjust", "spacingAndGlyphs")
    .text(text);
}
caption(12, 44, 468, "(a)", "Log\u2013price: difference from cross\u2013country sample average");
caption(677, 714, 171, "(b)", "Log\u2013price differential");
</script>
</body>
</html>
